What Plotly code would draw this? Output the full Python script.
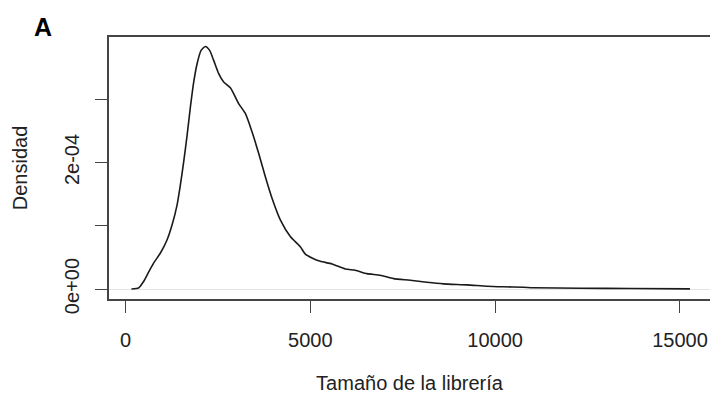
import plotly.graph_objects as go

# Density curve (x: library size, y: density)
lib_size = [162, 359, 495, 630, 765, 946, 1127, 1262, 1397, 1486, 1576, 1668, 1757,
            1846, 1938, 2046, 2162, 2278, 2386, 2522, 2657, 2838, 3062, 3243, 3424,
            3603, 3784, 3965, 4189, 4459, 4730, 4865, 5046, 5270, 5586, 5946, 6216,
            6532, 6892, 7251, 7703, 8154, 8603, 9235, 9776, 10224, 10765, 11035,
            12297, 13649, 15270]
density_e4 = [0.000, 0.019, 0.123, 0.271, 0.413, 0.570, 0.780, 1.016, 1.331, 1.646,
              2.013, 2.433, 2.879, 3.272, 3.562, 3.772, 3.835, 3.772, 3.614, 3.405,
              3.272, 3.181, 2.932, 2.775, 2.485, 2.145, 1.776, 1.436, 1.094, 0.831,
              0.669, 0.551, 0.491, 0.438, 0.397, 0.318, 0.296, 0.244, 0.217, 0.165,
              0.139, 0.107, 0.082, 0.066, 0.044, 0.035, 0.028, 0.020, 0.013, 0.008,
              0.003]
density = [v * 1e-4 for v in density_e4]

x_tickvals = [0, 5000, 10000, 15000]
x_ticktext = ["0", "5000", "10000", "15000"]
y_tickvals = [0, 1e-4, 2e-4, 3e-4]
y_ticktext = ["0e+00", "", "2e-04", ""]

W, H = 710, 396
L, T, B = 108.5, 36.5, 96.5
px_per_unit = 0.037
x0 = -445
x1 = x0 + (W - L) / px_per_unit

font_fam = "Liberation Sans, Arial, sans-serif"
axis_col = "#444444"

fig = go.Figure()
fig.add_trace(go.Scatter(x=lib_size, y=density, mode="lines",
                         line=dict(color="#1a1a1a", width=1.6, shape="spline", smoothing=0.6),
                         hoverinfo="skip", showlegend=False))

fig.update_layout(
    width=W, height=H,
    margin=dict(l=L, r=0, t=T, b=B, pad=0),
    paper_bgcolor="white", plot_bgcolor="white",
    font=dict(family=font_fam, size=20, color="#222222"),
    xaxis=dict(range=[x0, x1], tickvals=x_tickvals, ticktext=x_ticktext,
               showgrid=False, zeroline=False, showline=True, mirror=True,
               linecolor=axis_col, linewidth=1.6,
               ticks="outside", ticklen=12, tickwidth=1.4, tickcolor=axis_col,
               ticklabelstandoff=10,
               tickfont=dict(size=20, color="#222222"),
               title=dict(text="Tamaño de la librería", standoff=26,
                          font=dict(size=20, color="#222222"))),
    yaxis=dict(range=[-1.575e-5, 3.984e-4], tickvals=y_tickvals, ticktext=y_ticktext,
               showgrid=False, zeroline=True, zerolinecolor="#e4e4e4", zerolinewidth=1,
               showline=True, mirror=False, linecolor=axis_col, linewidth=1.6,
               ticks="outside", ticklen=12, tickwidth=1.4, tickcolor=axis_col,
               ticklabelstandoff=8,
               tickangle=-90, tickfont=dict(size=20, color="#222222"),
               title=dict(text="Densidad", standoff=28,
                          font=dict(size=20, color="#222222"))),
    annotations=[dict(text="<b>A</b>", xref="paper", yref="paper",
                      x=(42 - L) / (W - L), y=1 + (T - 26.5) / (H - T - B),
                      xanchor="center", yanchor="middle", showarrow=False,
                      font=dict(family=font_fam, size=25, color="black"))],
)

fig.write_html("out.html")
